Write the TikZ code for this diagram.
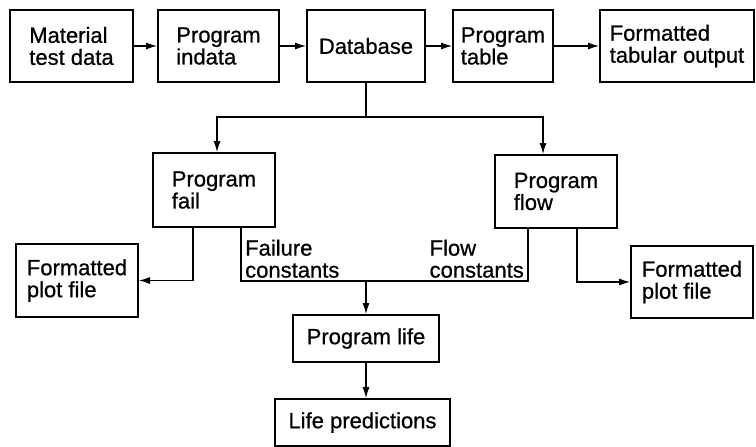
\documentclass[tikz,border=0pt]{standalone}
\usepackage{fontspec}
\setmainfont{Liberation Sans}
\newfontfamily\medfont[FakeBold=0.7]{Liberation Sans}
\usetikzlibrary{arrows.meta,calc}
\tikzstyle{block}=[draw,line width=2pt,align=left,inner sep=0pt,font=\fontsize{22}{22}\medfont]
\tikzstyle{edge} = [draw,line width=1.1pt,-{Latex[length=11pt,width=7pt]}]
\tikzstyle{undirectededge} = [draw,line width=1.1pt]
\tikzstyle{datalabel} = [align=left,inner sep=0pt,font=\fontsize{22}{22}\medfont]

\begin{document}
\begin{tikzpicture}[x=1pt,y=-1pt]
    \useasboundingbox (0,0) rectangle (756,447);

    \foreach \pos/\name/\txt/\w/\h in {{(71.5,46)/mat/{Material\\test data}/123/72},
        {(218.5,46)/indata/{Program\\indata}/121/72}, {(366,46)/db/{Database}/118/72},
        {(503,46)/table/{Program\\table}/100/72}, {(677,46)/tab/{Formatted\\tabular output}/154/72},
        {(214,190)/fail/{Program\\fail}/122/74}, {(556,191.5)/flow/{Program\\flow}/122/73},
        {(77,280.5)/plotL/{Formatted\\plot file}/122/73}, {(692,282)/plotR/{Formatted\\plot file}/122/72},
        {(366,338.5)/life/{Program life}/146/47}, {(362.5,422.5)/pred/{Life predictions}/175/47}}
        \node[block,minimum width=\w pt,minimum height=\h pt] (\name) at \pos {\txt};

    \coordinate (split) at (366,117);
    \coordinate (join) at (366,281);

    % top row
    \foreach \source/ \dest in {mat/indata, indata/db, db/table, table/tab}
        \path[edge] (\source) -- (\dest);

    % database to the two programs
    \path[undirectededge] (db) -- (split);
    \path[edge] (split) -| ([xshift=3pt]fail.north);
    \path[edge] (split) -| ([xshift=-13pt]flow.north);

    % plot files
    \path[edge] ([xshift=-21pt]fail.south) |- (plotL.east);
    \path[edge] ([xshift=21pt]flow.south) |- (plotR.west);

    % constants into program life
    \path[undirectededge] ([xshift=27pt]fail.south) |- (join) -| ([xshift=-28pt]flow.south);
    \node[datalabel,anchor=south west] (failc) at (245,278) {Failure\\constants};
    \node[datalabel,anchor=south east] (flowc) at (524,278) {Flow\\constants};
    \path[edge] (join) -- (life);
    \path[edge] (life.south) -- (life.south |- pred.north);
\end{tikzpicture}
\end{document}
